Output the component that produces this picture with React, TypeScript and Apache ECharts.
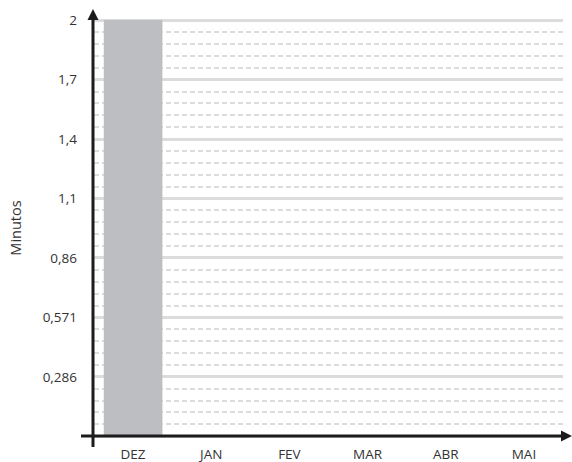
import React, { useEffect, useRef } from "react";
import * as echarts from "echarts";

const categories = ["DEZ", "JAN", "FEV", "MAR", "ABR", "MAI"];
const minutes = [2, 0, 0, 0, 0, 0];
const yTickLabels = ["", "0,286", "0,571", "0,86", "1,1", "1,4", "1,7", "2"];
const yMax = 2;
const yStep = 2 / 7;

const W = 572;
const H = 462;
const G_LEFT = 93;
const G_RIGHT_X = 563;
const G_TOP = 20;
const G_BOTTOM_Y = 436;
const AXIS_COLOR = "#1c1c1c";
const TEXT_COLOR = "#333333";
const FONT = "'Open Sans', 'Noto Sans', sans-serif";

export default function App() {
  const ref = useRef<HTMLDivElement>(null);
  useEffect(() => {
    if (!ref.current) return;
    const chart = echarts.init(ref.current, null, { renderer: "svg" });
    chart.setOption({
      animation: false,
      backgroundColor: "#ffffff",
      grid: {
        left: G_LEFT,
        right: W - G_RIGHT_X,
        top: G_TOP,
        bottom: H - G_BOTTOM_Y,
        containLabel: false,
      },
      xAxis: {
        type: "category",
        data: categories,
        boundaryGap: true,
        axisLine: { show: false },
        axisTick: { show: false },
        axisLabel: {
          margin: 11,
          color: TEXT_COLOR,
          fontFamily: FONT,
          fontSize: 13.5,
        },
        splitLine: { show: false },
      },
      yAxis: {
        type: "value",
        min: 0,
        max: yMax,
        interval: yStep,
        name: "Minutos",
        nameLocation: "middle",
        nameGap: 71,
        nameTextStyle: { color: TEXT_COLOR, fontFamily: FONT, fontSize: 14.5 },
        axisLine: { show: false },
        axisTick: { show: false },
        axisLabel: {
          margin: 17,
          color: TEXT_COLOR,
          fontFamily: FONT,
          fontSize: 13.5,
          formatter: (v: number) => yTickLabels[Math.round(v / yStep)] ?? "",
        },
        splitLine: {
          show: true,
          lineStyle: { color: "#dcdcdc", width: 3, type: "solid" },
        },
        minorTick: { show: false, splitNumber: 5 },
        minorSplitLine: {
          show: true,
          lineStyle: { color: "#dcdcdc", width: 2, type: [5, 3] },
        },
      },
      series: [
        {
          type: "bar",
          data: minutes,
          barWidth: "75%",
          itemStyle: { color: "#bdbec1" },
          z: 3,
        },
      ],
      graphic: [
        {
          type: "line",
          z: 100,
          shape: { x1: G_LEFT, y1: G_BOTTOM_Y + 11, x2: G_LEFT, y2: G_TOP - 2 },
          style: { stroke: AXIS_COLOR, lineWidth: 3 },
        },
        {
          type: "polygon",
          z: 100,
          shape: {
            points: [
              [G_LEFT, G_TOP - 11],
              [G_LEFT - 5.5, G_TOP + 0],
              [G_LEFT + 5.5, G_TOP + 0],
            ],
          },
          style: { fill: AXIS_COLOR },
        },
        {
          type: "line",
          z: 100,
          shape: { x1: G_LEFT - 12, y1: G_BOTTOM_Y, x2: W - 4, y2: G_BOTTOM_Y },
          style: { stroke: AXIS_COLOR, lineWidth: 3 },
        },
        {
          type: "polygon",
          z: 100,
          shape: {
            points: [
              [W, G_BOTTOM_Y],
              [W - 11, G_BOTTOM_Y - 5.5],
              [W - 11, G_BOTTOM_Y + 5.5],
            ],
          },
          style: { fill: AXIS_COLOR },
        },
      ],
    });
    return () => chart.dispose();
  }, []);
  return (
    <div
      ref={ref}
      style={{ position: "absolute", left: 0, top: 0, width: W, height: H }}
    />
  );
}
